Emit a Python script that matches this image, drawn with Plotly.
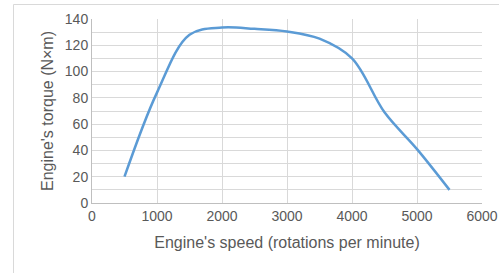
import plotly.graph_objects as go

speed_rpm = [500, 1000, 1500, 2000, 2500, 3000, 3500, 4000, 4500, 5000, 5500]
torque_nm = [20, 84, 128, 133.5, 132.5, 130.5, 125, 110, 69, 41, 10]

x_tick_vals = [0, 1000, 2000, 3000, 4000, 5000, 6000]
y_tick_vals = [0, 20, 40, 60, 80, 100, 120, 140]

W, H = 499, 273
L, R, T, B = 92, 17, 19, 70
pw, ph = W - L - R, H - T - B

fig = go.Figure()
fig.add_trace(go.Scatter(
    x=speed_rpm, y=torque_nm, mode="lines",
    line=dict(color="#5b9bd5", width=2.5, shape="spline", smoothing=1.0),
    showlegend=False, hoverinfo="skip",
))

grid = "#d9d9d9"
txt = "#595959"
font = "Liberation Sans, Arial, sans-serif"

fig.update_layout(
    width=W, height=H,
    margin=dict(l=L, r=R, t=T, b=B, pad=0),
    paper_bgcolor="white", plot_bgcolor="white",
    font=dict(family=font, color=txt, size=14),
    xaxis=dict(
        range=[0, 6000], tickvals=x_tick_vals, ticktext=[str(v) for v in x_tick_vals],
        showgrid=True, gridcolor=grid, gridwidth=1,
        showline=True, linecolor="#bfbfbf", linewidth=1,
        ticks="", zeroline=False, fixedrange=True, automargin=False,
        tickfont=dict(size=14, color=txt),
        title=dict(text="Engine's speed (rotations per minute)", font=dict(size=16, color=txt), standoff=14),
    ),
    yaxis=dict(
        range=[0, 140], tickvals=y_tick_vals, ticktext=[str(v) for v in y_tick_vals],
        showgrid=True, gridcolor=grid, gridwidth=1,
        minor=dict(dtick=10, showgrid=True, gridcolor=grid, gridwidth=1),
        showline=True, linecolor="#bfbfbf", linewidth=1,
        ticks="", zeroline=False, fixedrange=True, automargin=False,
        tickfont=dict(size=14, color=txt),
        title=dict(text="Engine's torque (N×m)", font=dict(size=16, color=txt), standoff=7),
    ),
    shapes=[dict(
        type="rect", xref="paper", yref="paper",
        x0=(13.5 - L) / pw, x1=2, y0=-1, y1=1 + (T - 4.5) / ph,
        line=dict(color="#d9d9d9", width=1), fillcolor="rgba(0,0,0,0)", layer="below",
    )],
)

fig.write_html(
    "out.html",
    config={"displayModeBar": False},
    post_script="document.body.style.margin='0';document.body.style.overflow='hidden';",
)
